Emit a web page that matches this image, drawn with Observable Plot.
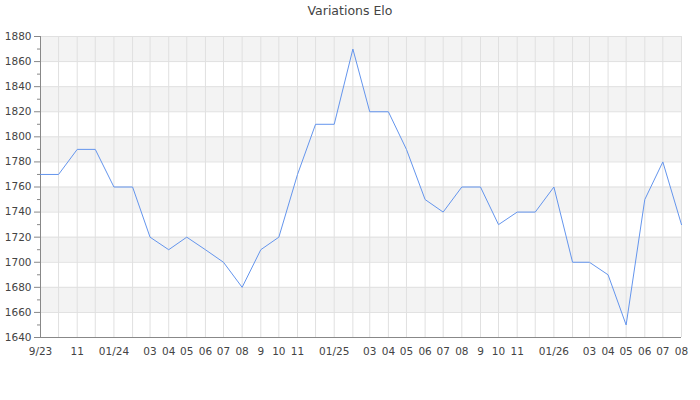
<!DOCTYPE html>
<html>
<head>
<meta charset="utf-8">
<script src="https://cdn.jsdelivr.net/npm/d3@7"></script>
<script src="https://cdn.jsdelivr.net/npm/@observablehq/plot@0.6"></script>
<style>
  html, body { margin: 0; padding: 0; background: #fff; }
  #wrap { position: relative; width: 700px; height: 400px; }
  #title { position: absolute; left: 0; top: 3px; width: 700px; text-align: center;
    font-family: "DejaVu Sans", sans-serif; font-size: 12.5px; color: #444; }
</style>
</head>
<body>
<div id="wrap"><div id="title">Variations Elo</div></div>
<script>
// Months (first of month), Sep 2023 .. Aug 2026
const months = [
  "2023-09","2023-10","2023-11","2023-12",
  "2024-01","2024-02","2024-03","2024-04","2024-05","2024-06","2024-07","2024-08","2024-09","2024-10","2024-11","2024-12",
  "2025-01","2025-02","2025-03","2025-04","2025-05","2025-06","2025-07","2025-08","2025-09","2025-10","2025-11","2025-12",
  "2026-01","2026-02","2026-03","2026-04","2026-05","2026-06","2026-07","2026-08"
];
const elo = [
  1770,1770,1790,1790,
  1760,1760,1720,1710,1720,1710,1700,1680,1710,1720,1770,1810,
  1810,1870,1820,1820,1790,1750,1740,1760,1760,1730,1740,1740,
  1760,1700,1700,1690,1650,1750,1780,1730
];
const tickLabels = [
  "9/23","","11","",
  "01/24","","03","04","05","06","07","08","9","10","11","",
  "01/25","","03","04","05","06","07","08","9","10","11","",
  "01/26","","03","04","05","06","07","08"
];
const yTicks = [1640,1660,1680,1700,1720,1740,1760,1780,1800,1820,1840,1860,1880];

const dates = months.map(m => new Date(m + "-01T00:00:00Z"));
const data = dates.map((d, i) => ({date: d, elo: elo[i]}));
const labelMap = new Map(dates.map((d, i) => [+d, tickLabels[i]]));
const yMin = yTicks[0], yMax = yTicks[yTicks.length - 1];
const bands = [];
for (let i = 1; i < yTicks.length; i += 2) bands.push({y1: yTicks[i], y2: yTicks[i + 1]});
const minorTicks = yTicks.slice(0, -1).map((t, i) => (t + yTicks[i + 1]) / 2);

const chart = Plot.plot({
  width: 700,
  height: 400,
  marginTop: 36,
  marginBottom: 63,
  marginLeft: 40,
  marginRight: 19,
  style: {fontFamily: "DejaVu Sans, sans-serif", fontSize: "10.5px", color: "#444", background: "transparent"},
  x: {type: "utc", domain: [dates[0], dates[dates.length - 1]]},
  y: {domain: [yMin, yMax]},
  marks: [
    Plot.rectY(bands, {x1: dates[0], x2: dates[dates.length - 1], y1: "y1", y2: "y2", fill: "#f3f3f3"}),
    Plot.ruleX(dates, {stroke: "#e0e0e0", strokeWidth: 1}),
    Plot.ruleY(yTicks, {stroke: "#e0e0e0", strokeWidth: 1}),
    Plot.axisY({ticks: yTicks, tickSize: 6, tickPadding: 3, tickFormat: d => String(d), stroke: "#888", strokeOpacity: 1, label: null, fill: "#444"}),
    Plot.axisY({ticks: minorTicks, tickSize: 3, tickFormat: () => "", stroke: "#888", strokeOpacity: 1, label: null}),
    Plot.axisX({ticks: dates, tickSize: 0, tickPadding: 10, tickFormat: d => labelMap.get(+d), label: null, fill: "#444"}),
    Plot.ruleX([dates[0]], {stroke: "#888"}),
    Plot.ruleY([yMin], {stroke: "#888"}),
    Plot.line(data, {x: "date", y: "elo", stroke: "#6495ed", strokeWidth: 1})
  ]
});
document.getElementById("wrap").appendChild(chart);
</script>
</body>
</html>
